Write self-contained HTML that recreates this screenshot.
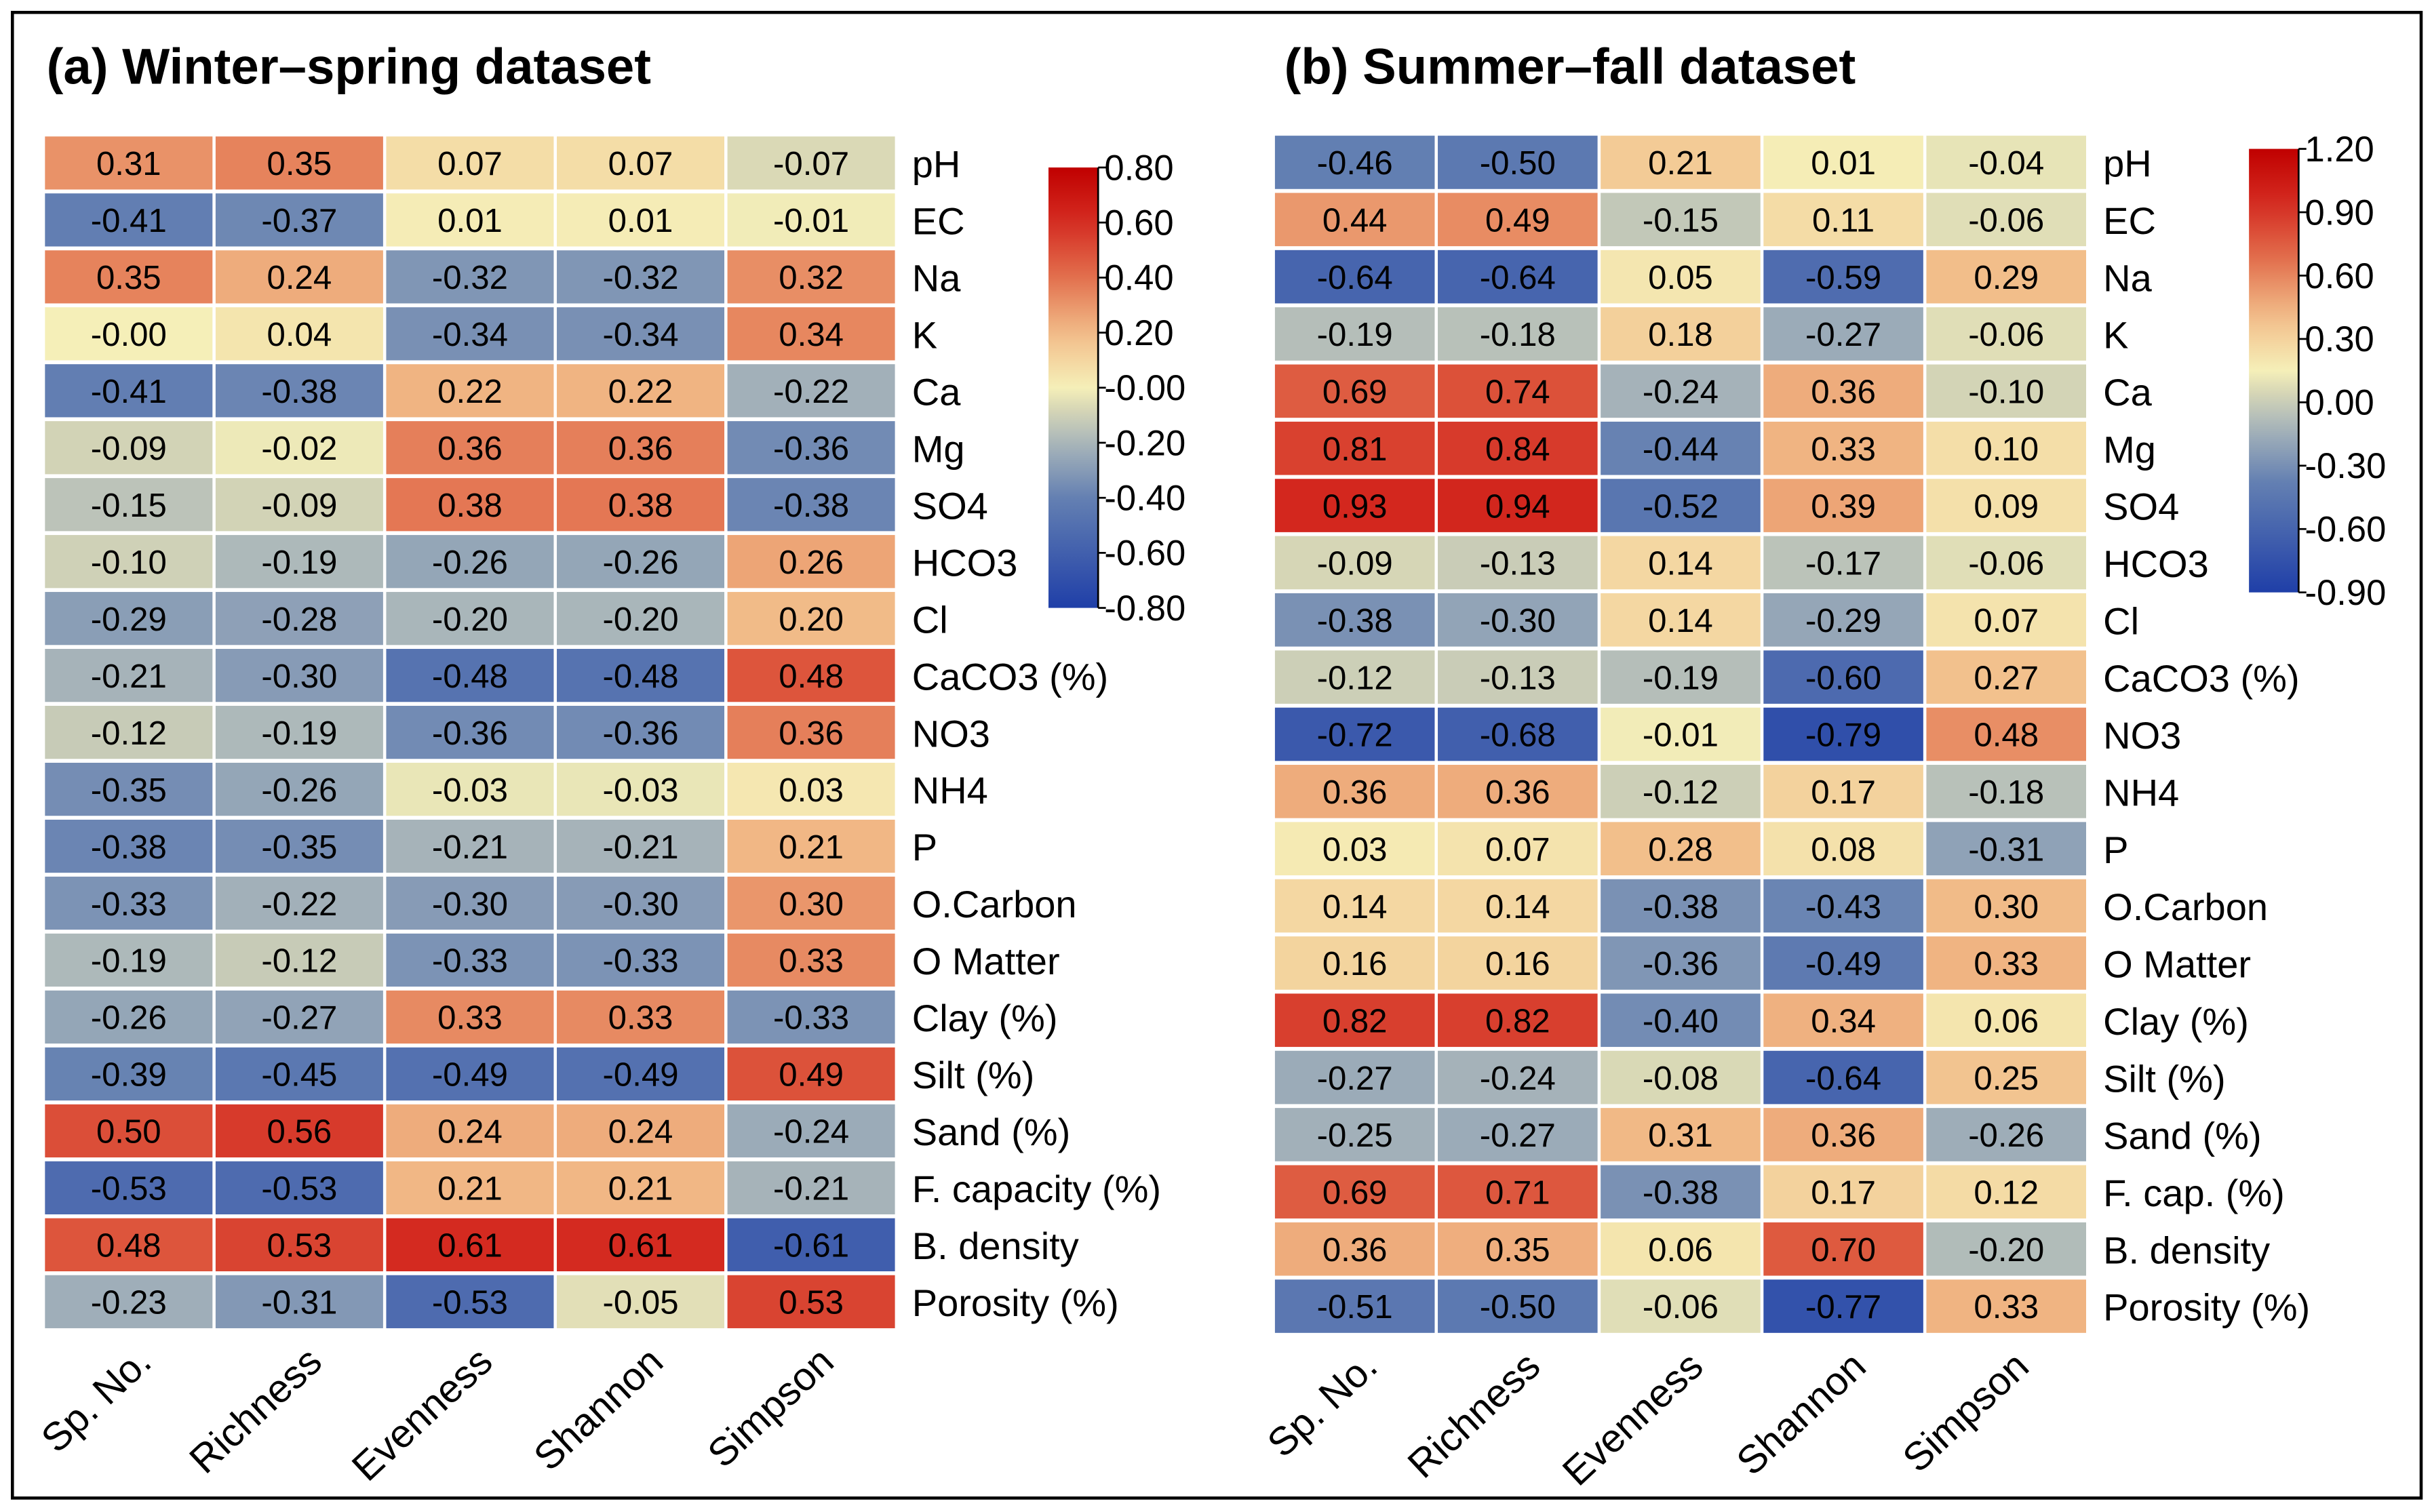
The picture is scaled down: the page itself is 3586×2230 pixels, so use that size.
<!DOCTYPE html>
<html><head><meta charset="utf-8">
<style>
html,body{margin:0;padding:0;background:#fff;}
svg{display:block;font-family:"Liberation Sans",Arial,sans-serif;}
</style></head>
<body>
<svg id="fig" width="3586" height="2230" viewBox="0 0 1568 975" preserveAspectRatio="none" xmlns="http://www.w3.org/2000/svg">
<rect x="8" y="8" width="1553" height="958" fill="#fff" stroke="#000" stroke-width="2"/>
<text x="30" y="54" font-size="32.5" font-weight="bold">(a) Winter–spring dataset</text>
<text x="828" y="54" font-size="32.5" font-weight="bold">(b) Summer–fall dataset</text>
<g id="pa"></g>
<g id="pb"></g>
</svg>
<script>
const cols = ["Sp. No.","Richness","Evenness","Shannon","Simpson"];
const rowsA = ["pH","EC","Na","K","Ca","Mg","SO4","HCO3","Cl","CaCO3 (%)","NO3","NH4","P","O.Carbon","O Matter","Clay (%)","Silt (%)","Sand (%)","F. capacity (%)","B. density","Porosity (%)"];
const rowsB = ["pH","EC","Na","K","Ca","Mg","SO4","HCO3","Cl","CaCO3 (%)","NO3","NH4","P","O.Carbon","O Matter","Clay (%)","Silt (%)","Sand (%)","F. cap. (%)","B. density","Porosity (%)"];
const valsA = [
[0.31,0.35,0.07,0.07,-0.07],[-0.41,-0.37,0.01,0.01,-0.01],[0.35,0.24,-0.32,-0.32,0.32],[-0.00,0.04,-0.34,-0.34,0.34],
[-0.41,-0.38,0.22,0.22,-0.22],[-0.09,-0.02,0.36,0.36,-0.36],[-0.15,-0.09,0.38,0.38,-0.38],[-0.10,-0.19,-0.26,-0.26,0.26],
[-0.29,-0.28,-0.20,-0.20,0.20],[-0.21,-0.30,-0.48,-0.48,0.48],[-0.12,-0.19,-0.36,-0.36,0.36],[-0.35,-0.26,-0.03,-0.03,0.03],
[-0.38,-0.35,-0.21,-0.21,0.21],[-0.33,-0.22,-0.30,-0.30,0.30],[-0.19,-0.12,-0.33,-0.33,0.33],[-0.26,-0.27,0.33,0.33,-0.33],
[-0.39,-0.45,-0.49,-0.49,0.49],[0.50,0.56,0.24,0.24,-0.24],[-0.53,-0.53,0.21,0.21,-0.21],[0.48,0.53,0.61,0.61,-0.61],
[-0.23,-0.31,-0.53,-0.05,0.53]];
const valsB = [
[-0.46,-0.50,0.21,0.01,-0.04],[0.44,0.49,-0.15,0.11,-0.06],[-0.64,-0.64,0.05,-0.59,0.29],[-0.19,-0.18,0.18,-0.27,-0.06],
[0.69,0.74,-0.24,0.36,-0.10],[0.81,0.84,-0.44,0.33,0.10],[0.93,0.94,-0.52,0.39,0.09],[-0.09,-0.13,0.14,-0.17,-0.06],
[-0.38,-0.30,0.14,-0.29,0.07],[-0.12,-0.13,-0.19,-0.60,0.27],[-0.72,-0.68,-0.01,-0.79,0.48],[0.36,0.36,-0.12,0.17,-0.18],
[0.03,0.07,0.28,0.08,-0.31],[0.14,0.14,-0.38,-0.43,0.30],[0.16,0.16,-0.36,-0.49,0.33],[0.82,0.82,-0.40,0.34,0.06],
[-0.27,-0.24,-0.08,-0.64,0.25],[-0.25,-0.27,0.31,0.36,-0.26],[0.69,0.71,-0.38,0.17,0.12],[0.36,0.35,0.06,0.70,-0.20],
[-0.51,-0.50,-0.06,-0.77,0.33]];
const ticksA = ["0.80","0.60","0.40","0.20","-0.00","-0.20","-0.40","-0.60","-0.80"];
const ticksB = ["1.20","0.90","0.60","0.30","0.00","-0.30","-0.60","-0.90"];

const NS="http://www.w3.org/2000/svg";
const stops=[[0,[31,63,168]],[0.25,[100,128,178]],[0.38,[172,184,186]],[0.45,[214,214,182]],[0.5,[245,239,184]],[0.62,[242,190,138]],[0.75,[226,112,78]],[0.88,[212,42,32]],[1,[192,0,0]]];
function cmap(t){t=Math.max(0,Math.min(1,t));for(let i=1;i<stops.length;i++){if(t<=stops[i][0]){const a=stops[i-1],b=stops[i];const f=(t-a[0])/(b[0]-a[0]);const c=a[1].map((v,k)=>Math.round(v+(b[1][k]-v)*f));return `rgb(${c[0]},${c[1]},${c[2]})`;}}return "rgb(192,0,0)";}
function mk(tag,attrs,parent){const e=document.createElementNS(NS,tag);for(const k in attrs)e.setAttribute(k,attrs[k]);parent.appendChild(e);return e;}
function fmt(v){return (v<0||Object.is(v,-0)?"-":"")+Math.abs(v).toFixed(2);}

function panel(g,vals,rows,cfg){
  const cw=(cfg.x1-cfg.x0)/cols.length, rh=(cfg.y1-cfg.y0)/rows.length;
  const cx=j=>cfg.x0+j*cw, ry=i=>cfg.y0+i*rh;
  const tv=v=>v<0?0.5*(v-cfg.min)/(0-cfg.min):0.5+0.5*v/cfg.max;
  vals.forEach((row,i)=>row.forEach((v,j)=>{
    const r=mk("rect",{x:cx(j)+1,y:ry(i)+1,width:cw-2,height:rh-2.5,fill:cmap(tv(v))},g);
    
    
    const t=mk("text",{x:cx(j)+cw/2,y:ry(i)+rh/2+7.5,"font-size":21.5,"text-anchor":"middle",fill:"#000"},g);
    t.textContent=fmt(v);
    
    
  }));
  rows.forEach((r,i)=>{
    const t=mk("text",{x:cfg.x1+10,y:ry(i)+rh/2+9,"font-size":24.5},g);
    t.textContent=r;
    
    
  });
  cols.forEach((c,j)=>{
    const x=cx(j)+cw/2+16, y=cfg.y1+22;
    const t=mk("text",{x:x,y:y,"font-size":25.5,"text-anchor":"end",transform:`rotate(-43 ${x} ${y})`},g);
    t.textContent=c;
    
    
  });
  const id="grad"+cfg.id;
  const defs=mk("defs",{},g);
  const lg=mk("linearGradient",{id:id,x1:0,y1:1,x2:0,y2:0},defs);
  for(let k=0;k<=20;k++)mk("stop",{offset:k/20,"stop-color":cmap(k/20)},lg);
  const bar=mk("rect",{x:cfg.bx,y:cfg.by0,width:32,height:cfg.by1-cfg.by0,fill:`url(#${id})`},g);
  
  
  mk("line",{x1:cfg.bx+32,y1:cfg.by0,x2:cfg.bx+32,y2:cfg.by1,stroke:"#000","stroke-width":1.2},g);
  const n=cfg.ticks.length;
  cfg.ticks.forEach((tk,k)=>{
    const y=cfg.by0+k*(cfg.by1-cfg.by0)/(n-1);
    mk("line",{x1:cfg.bx+32,y1:y,x2:cfg.bx+37,y2:y,stroke:"#000","stroke-width":1.2},g);
    const t=mk("text",{x:cfg.bx+36,y:y+8,"font-size":23},g);
    t.textContent=tk;
    
    
  });
}
panel(document.getElementById("pa"),valsA,rowsA,{id:"a",x0:28,x1:578,y0:87,y1:858,min:-0.8,max:0.8,bx:676,by0:108,by1:392,ticks:ticksA});
panel(document.getElementById("pb"),valsB,rowsB,{id:"b",x0:821,x1:1346,y0:86.5,y1:861,min:-0.9,max:1.2,bx:1450,by0:96,by1:382,ticks:ticksB});
</script>
</body></html>
